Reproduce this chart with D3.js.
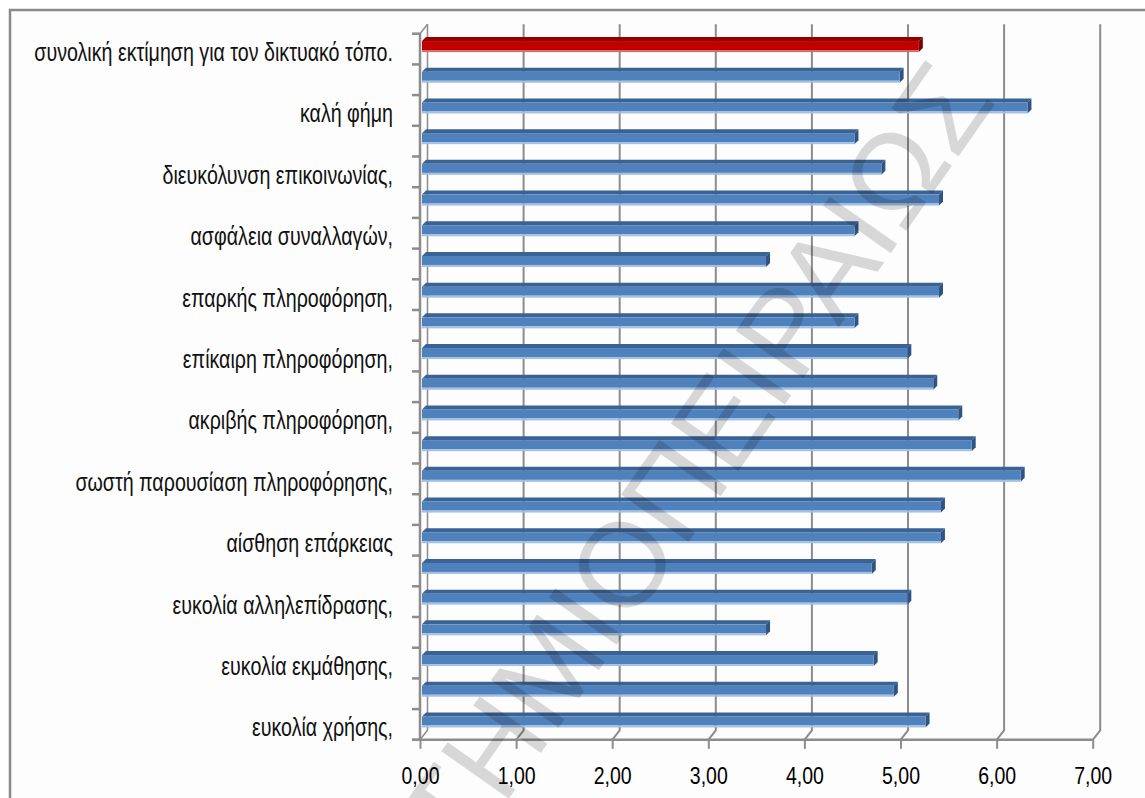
<!DOCTYPE html>
<html>
<head>
<meta charset="utf-8">
<script src="https://cdn.jsdelivr.net/npm/d3@7"></script>
<style>
  html, body { margin: 0; padding: 0; background: #ffffff; }
  svg { display: block; }
</style>
</head>
<body>
<svg id="chart" width="1145" height="798"></svg>
<script>
// Category labels, listed from the bottom of the chart upwards.
// Every other category carries no printed label.
const categoryLabels = [
  "ευκολία χρήσης,", "",
  "ευκολία εκμάθησης,", "",
  "ευκολία αλληλεπίδρασης,", "",
  "αίσθηση επάρκειας", "",
  "σωστή παρουσίαση πληροφόρησης,", "",
  "ακριβής πληροφόρηση,", "",
  "επίκαιρη πληροφόρηση,", "",
  "επαρκής πληροφόρηση,", "",
  "ασφάλεια συναλλαγών,", "",
  "διευκόλυνση επικοινωνίας,", "",
  "καλή φήμη", "",
  "συνολική εκτίμηση για τον δικτυακό τόπο."
];

// Mean score per category (same order as the labels).
const scores = [
  5.24, 4.91,
  4.70, 3.58,
  5.05, 4.68,
  5.40, 5.40,
  6.23, 5.72,
  5.58, 5.32,
  5.05, 4.50,
  5.38, 3.58,
  4.50, 5.38,
  4.78, 4.50,
  6.30, 4.97,
  5.17
];

// Index of the summary bar, drawn in red.
const highlightIndex = 22;

// Value axis ticks.
const xTicks = [0, 1, 2, 3, 4, 5, 6, 7];
const xTickFormat = v => d3.format(".2f")(v).replace(".", ",");

const FONT = "'Liberation Sans', Arial, sans-serif";
const svg = d3.select("#chart");

// Outer chart frame (runs past the right and bottom edges).
svg.append("rect")
  .attr("x", 10).attr("y", 10)
  .attr("width", 1300).attr("height", 900)
  .attr("fill", "#fdfdfd")
  .attr("stroke", "#8a8a8a")
  .attr("stroke-width", 2.5);

// Plot geometry (front plane of the 3D box).
const plot = { left: 420, right: 1092.7, top: 33.7, bottom: 739.8 };
const depth = { dx: 7.5, dy: -9.5 };   // offset from front plane to back wall

const x = d3.scaleLinear().domain([0, 7]).range([plot.left, plot.right]);
const y = d3.scaleBand()
  .domain(d3.range(scores.length))
  .range([plot.bottom, plot.top])
  .padding(0);

// Back-wall vertical gridlines that fold down onto the front floor edge.
const grid = svg.append("g").attr("fill", "none").attr("stroke", "#8c8c8c").attr("stroke-width", 2);
xTicks.forEach(v => {
  if (v === 0) return;
  const xf = x(v), xb = x(v) + depth.dx;
  grid.append("path")
    .attr("d", `M${xb},${plot.top + depth.dy}L${xb},${plot.bottom + depth.dy}L${xf},${plot.bottom}`);
});

// Left side wall: back edge and top edge.
grid.append("path")
  .attr("d", `M${x(0) + depth.dx},${plot.top + depth.dy}L${x(0) + depth.dx},${plot.bottom + depth.dy}L${x(0)},${plot.bottom}`)
  .attr("stroke-width", 1.5);
grid.append("path")
  .attr("d", `M${x(0)},${plot.top}L${x(0) + depth.dx},${plot.top + depth.dy}`)
  .attr("stroke-width", 1.5);

// Category axis (front left edge) with boundary ticks.
svg.append("line")
  .attr("x1", plot.left).attr("x2", plot.left)
  .attr("y1", plot.top).attr("y2", plot.bottom)
  .attr("stroke", "#8c8c8c").attr("stroke-width", 2.5);
const boundaries = d3.range(scores.length + 1).map(i => plot.bottom - i * y.step());
svg.append("g").selectAll("line").data(boundaries).join("line")
  .attr("x1", plot.left - 8).attr("x2", plot.left)
  .attr("y1", d => d).attr("y2", d => d)
  .attr("stroke", "#8c8c8c").attr("stroke-width", 2.5);

// Value axis along the front floor edge.
const xAxis = d3.axisBottom(x).tickValues(xTicks).tickFormat(xTickFormat).tickSize(9).tickPadding(19);
const xAxisG = svg.append("g").attr("transform", `translate(0,${plot.bottom})`).call(xAxis);
xAxisG.select(".domain")
  .attr("d", `M${plot.left - 8},0H${plot.right}`)
  .attr("stroke", "#8c8c8c").attr("stroke-width", 2.5);
xAxisG.selectAll(".tick line").attr("stroke", "#8c8c8c").attr("stroke-width", 2);
xAxisG.selectAll(".tick text")
  .attr("fill", "#000")
  .attr("transform", "scale(0.83,1)")
  .style("font-family", FONT)
  .style("font-size", "23.5px");

// Category labels, condensed horizontally to a narrow face.
const labelG = svg.append("g");
const labels = labelG.selectAll("text").data(categoryLabels).join("text")
  .attr("text-anchor", "end")
  .style("font-family", FONT)
  .style("font-size", "25px")
  .attr("fill", "#111")
  .text(d => d);
let longest = 0;
labels.each(function () { longest = Math.max(longest, this.getComputedTextLength()); });
const labelSpan = 359;
const sx = longest > 0 ? labelSpan / longest : 1;
labels.attr("transform", (d, i) => `translate(393,${y(i) + y.bandwidth() / 2 + 12}) scale(${sx},1)`);

// 3D bars: top face, end face, front face with a light lower rim.
const bar = { dx: 4, dy: -4, h: 9, rim: 2, lift: 8 };
const palette = {
  normal: { front: "#4f81bd", top: "#3a6294", side: "#2f5382", rim: "#a3bfe3" },
  highlight: { front: "#c00000", top: "#940000", side: "#7c0000", rim: "#d86a6a" }
};
const bars = svg.append("g").selectAll("g").data(scores).join("g");
bars.each(function (v, i) {
  const g = d3.select(this);
  const c = i === highlightIndex ? palette.highlight : palette.normal;
  const x0 = x(0) + 2, x1 = x(v) + 2;
  const top = y(i) + y.bandwidth() / 2 - bar.lift;
  g.append("path")
    .attr("d", `M${x0},${top}L${x0 + bar.dx},${top + bar.dy}L${x1 + bar.dx},${top + bar.dy}L${x1},${top}Z`)
    .attr("fill", c.top);
  g.append("path")
    .attr("d", `M${x1},${top}L${x1 + bar.dx},${top + bar.dy}L${x1 + bar.dx},${top + bar.h + bar.rim + bar.dy}L${x1},${top + bar.h + bar.rim}Z`)
    .attr("fill", c.side);
  g.append("rect")
    .attr("x", x0).attr("y", top)
    .attr("width", x1 - x0).attr("height", bar.h)
    .attr("fill", c.front);
  g.append("rect")
    .attr("x", x0).attr("y", top + bar.h)
    .attr("width", x1 - x0).attr("height", bar.rim)
    .attr("fill", c.rim);
});

// Diagonal watermark across the plot, split at the word break.
const wmStyle = sel => sel
  .attr("transform", "translate(683,550) rotate(-55)")
  .style("font-family", FONT)
  .style("font-size", "120px")
  .attr("fill", "#000")
  .attr("fill-opacity", 0.15);
svg.append("text").call(wmStyle).attr("text-anchor", "end").text("ΠΑΝΕΠΙΣΤΗΜΙΟ ");
svg.append("text").call(wmStyle).attr("text-anchor", "start").text("ΠΕΙΡΑΙΩΣ");
</script>
</body>
</html>
